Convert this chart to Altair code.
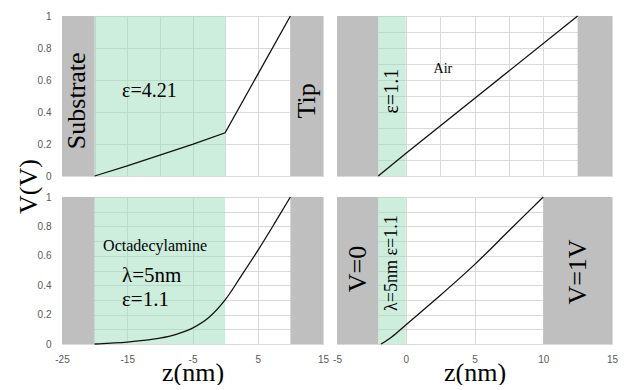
import altair as alt
import pandas as pd

# ---------------- data ----------------
# Potential profiles V(z)
tl_z = [-20, -15, -10, -5, 0, 10]
tl_v = [0, 0.063, 0.13, 0.197, 0.27, 1.0]

tr_z = [-2, 0, 12.5]
tr_v = [0, 0.14, 1.0]

bl_z = [-20, -17.5, -15, -12.5, -10, -7.5, -5, -2.5, 0, 2.5, 5, 7.5, 10]
bl_v = [0, 0.006, 0.013, 0.024, 0.04, 0.066, 0.108, 0.18, 0.30, 0.465, 0.635, 0.815, 1.0]

br_z = [-1.8, -1, 0, 2.5, 5, 7.5, 10]
br_v = [0, 0.05, 0.13, 0.33, 0.54, 0.77, 1.0]

# Electrode (grey) and layer (green) extents along z
tl_gray = [(-25, -20), (10, 15)]
tl_green = [(-20, 0)]
tr_gray = [(-5, -2), (12.5, 15)]
tr_green = [(-2, 0)]
bl_gray = [(-25, -20), (10, 15)]
bl_green = [(-20, 0)]
br_gray = [(-5, -2), (10, 15)]
br_green = [(-2, 0)]

# Annotations: text, z, V
tl_texts = [("Substrate", -22.7, 0.47), ("ε=4.21", -15.8, 0.53), ("Tip", 12.5, 0.47)]
tr_texts = [("ε=1.1", -1.0, 0.53), ("Air", 2.7, 0.67)]
bl_texts = [("Octadecylamine", -18.7, 0.67), ("λ=5nm", -15.8, 0.46), ("ε=1.1", -15.8, 0.30)]
br_texts = [("V=0", -3.5, 0.51), ("λ=5nm ε=1.1", -1.0, 0.55), ("V=1V", 12.5, 0.49)]

left_ticks = [-25, -15, -5, 5, 15]
right_ticks = [-5, 0, 5, 10, 15]
y_fine = [0, 0.1, 0.2, 0.3, 0.4, 0.5, 0.6, 0.7, 0.8, 0.9, 1.0]
y_coarse = [0, 0.2, 0.4, 0.6, 0.8, 1.0]

SERIF = "Liberation Serif"
SANS = "Liberation Sans"
GRAY = "#bfbfbf"
GREEN = "#9bdcbc"
GRID = "#d9d9d9"


def make_axis(values, labels, title=None, **kw):
    base = dict(values=values, grid=True, gridColor=GRID, gridWidth=1,
                domain=False, ticks=False, labels=labels,
                labelFont=SANS, labelFontSize=10, labelColor="#595959",
                titleFont=SERIF, titleFontSize=26, titleFontWeight="normal",
                titleColor="#000000")
    base.update(kw)
    base["title"] = title if title is not None else None
    return alt.Axis(**base)


def panel(gray, green, z, v, texts, w, h, xdom, xaxis, yaxis, text_styles, interp):
    xs = alt.Scale(domain=xdom, nice=False, zero=False)
    ys = alt.Scale(domain=[0, 1], nice=False, zero=False)
    X = alt.X("z:Q", scale=xs, axis=xaxis)
    Y = alt.Y("v:Q", scale=ys, axis=yaxis)

    gdf = pd.DataFrame({"z": [a for a, b in gray], "z2": [b for a, b in gray],
                        "v": [0] * len(gray), "v2": [1] * len(gray)})
    ndf = pd.DataFrame({"z": [a for a, b in green], "z2": [b for a, b in green],
                        "v": [0] * len(green), "v2": [1] * len(green)})
    ldf = pd.DataFrame({"z": z, "v": v})

    layers = [
        alt.Chart(ndf).mark_rect(color=GREEN, opacity=0.5).encode(x=X, x2="z2", y=Y, y2="v2"),
        alt.Chart(gdf).mark_rect(color=GRAY).encode(x=X, x2="z2", y=Y, y2="v2"),
        alt.Chart(ldf).mark_line(color="#111111", strokeWidth=1.3,
                                 interpolate=interp).encode(x=X, y=Y),
    ]
    for (t, tz, tv), st in zip(texts, text_styles):
        tdf = pd.DataFrame({"z": [tz], "v": [tv], "t": [t]})
        layers.append(
            alt.Chart(tdf).mark_text(font=SERIF, color="#000000", baseline="middle", **st)
            .encode(x=X, y=Y, text="t:N")
        )
    return alt.layer(*layers).properties(width=w, height=h)


WL, WR, HT, HB = 261, 275, 160, 147

rot = lambda s: dict(angle=270, align="center", fontSize=s)
left = lambda s: dict(angle=0, align="left", fontSize=s)
ctr = lambda s: dict(angle=0, align="center", fontSize=s)

y_every_other = "round(datum.value*10) % 2 == 0 ? format(datum.value, '~g') : ''"
y_plain = "format(datum.value, '~g')"
x_plain = "datum.value + ''"

tl = panel(tl_gray, tl_green, tl_z, tl_v, tl_texts, WL, HT, [-25, 15],
           make_axis([-25, -20, -15, -10, -5, 0, 5, 10, 15], False),
           make_axis(y_coarse, True, title="V(V)", labelPadding=11, labelExpr=y_plain,
                     titleX=-34, titleY=HT + 10, titleAngle=270,
                     titleAlign="center", titleBaseline="middle"),
           [rot(26), left(20), rot(26)], "linear")

tr = panel(tr_gray, tr_green, tr_z, tr_v, tr_texts, WR, HT, [-5, 15],
           make_axis([-5, -2.5, 0, 2.5, 5, 7.5, 10, 12.5, 15], False),
           make_axis(y_fine, False),
           [rot(20), ctr(14)], "linear")

bl = panel(bl_gray, bl_green, bl_z, bl_v, bl_texts, WL, HB, [-25, 15],
           make_axis(left_ticks, True, title="z(nm)", labelPadding=10, labelExpr=x_plain,
                     labelFlush=False, titlePadding=-5),
           make_axis(y_fine, True, labelPadding=11, labelExpr=y_every_other),
           [left(16), left(21), left(21)], "monotone")

br = panel(br_gray, br_green, br_z, br_v, br_texts, WR, HB, [-5, 15],
           make_axis(right_ticks, True, title="z(nm)", labelPadding=10, labelExpr=x_plain,
                     labelFlush=False, titlePadding=-5),
           make_axis(y_fine, False),
           [rot(26), rot(18), rot(26)], "monotone")

chart = alt.concat(tl, tr, bl, br, columns=2,
                   spacing={"row": 21, "column": 14}, bounds="flush").properties(
    padding={"left": 7, "top": 3, "right": 0, "bottom": 0},
    background="white",
).configure_view(stroke=None)

chart.save("out.html", embed_options={"renderer": "svg", "actions": False})
